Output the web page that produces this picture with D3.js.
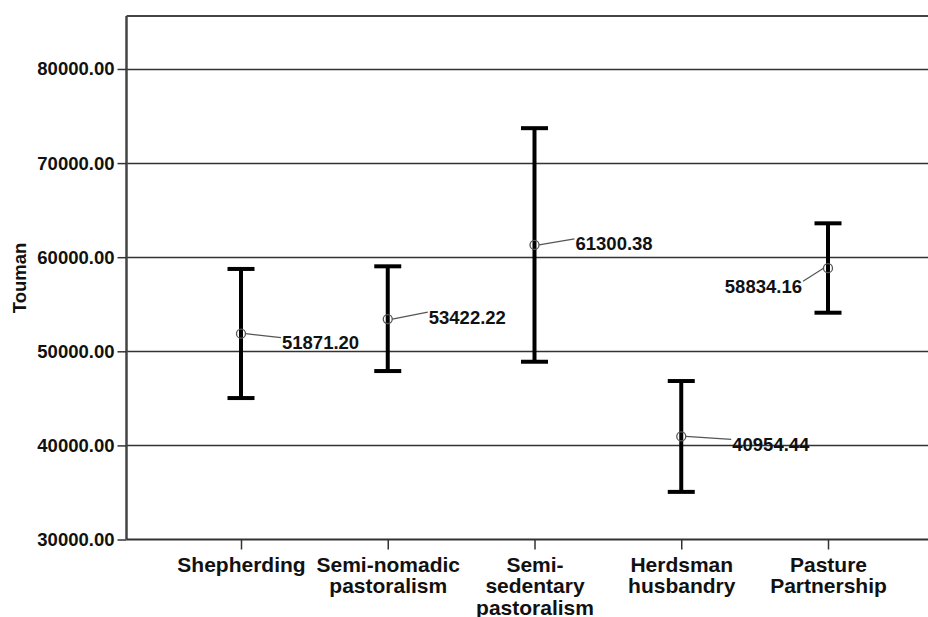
<!DOCTYPE html>
<html>
<head>
<meta charset="utf-8">
<script src="https://cdn.jsdelivr.net/npm/d3@7"></script>
<style>
    body { margin: 0; background: #fff; }
    svg { display: block; font-family: "Liberation Sans", Arial, sans-serif; }
    .tick-label { font-size: 18.5px; font-weight: bold; fill: #111; }
    .cat-label { font-size: 21px; font-weight: bold; fill: #111; }
    .value { font-size: 18.5px; font-weight: bold; fill: #111; }
</style>
</head>
<body>
<div class="chart"></div>
<script>
// data
const categories = ["Shepherding", "Semi-nomadic\npastoralism", "Semi-\nsedentary\npastoralism", "Herdsman\nhusbandry", "Pasture\nPartnership"];
const means = [51871.20, 53422.22, 61300.38, 40954.44, 58834.16];
const upper = [58750, 59030, 73710, 46840, 63600];
const lower = [45030, 47900, 48890, 35060, 54100];
const yTicks = [30000, 40000, 50000, 60000, 70000, 80000];

// label placement (dx, dy of text from the mean point), negative dx = label left of point
const labelShift = [[41, 9], [41, -2], [41, -1], [51, 8], [-26, 18]];

const width = 928;
const height = 617;
const plotLeft = 126.5;
const plotTop = 16;
const plotBottom = 539.5;
const capWidth = 27;

const svg = d3.select(".chart")
    .append("svg")
    .attr("width", width)
    .attr("height", height);

const y = d3.scaleLinear()
    .domain([30000, 85630])
    .range([plotBottom, plotTop]);

const x = d3.scalePoint()
    .domain(categories)
    .range([241, 828]);

_drawGrid();
_drawAxes();
_drawBars();
_drawLabels();

function _drawGrid() {
    svg.selectAll(".grid")
        .data(yTicks.slice(1))
        .enter()
        .append("line")
        .attr("class", "grid")
        .attr("x1", plotLeft)
        .attr("x2", width)
        .attr("y1", (d) => Math.round(y(d)) + 0.5)
        .attr("y2", (d) => Math.round(y(d)) + 0.5)
        .style("stroke", "#333")
        .style("stroke-width", 1.5);

    // top frame
    svg.append("line")
        .attr("x1", plotLeft)
        .attr("x2", width)
        .attr("y1", plotTop)
        .attr("y2", plotTop)
        .style("stroke", "#444")
        .style("stroke-width", 2);
}

function _drawAxes() {
    const yAxis = d3.axisLeft(y)
        .tickValues(yTicks)
        .tickSize(9)
        .tickPadding(3)
        .tickFormat(d3.format(".2f"));

    const gy = svg.append("g")
        .attr("class", "y-axis")
        .attr("transform", `translate(${plotLeft},0)`)
        .call(yAxis);

    gy.select(".domain")
        .attr("d", `M0,${plotTop}V${plotBottom}`)
        .style("stroke", "#444")
        .style("stroke-width", 2.5);
    gy.selectAll(".tick line").style("stroke", "#333").style("stroke-width", 1.5);
    gy.selectAll(".tick text")
        .attr("class", "tick-label");
    gy.attr("font-family", null).attr("font-size", null);

    const xAxis = d3.axisBottom(x)
        .tickSize(10)
        .tickFormat("");

    const gx = svg.append("g")
        .attr("class", "x-axis")
        .attr("transform", `translate(0,${plotBottom})`)
        .call(xAxis);
    gx.attr("font-family", null).attr("font-size", null);

    gx.select(".domain")
        .attr("d", `M${plotLeft},0H${width}`)
        .style("stroke", "#333")
        .style("stroke-width", 2);
    gx.selectAll(".tick line").style("stroke", "#333").style("stroke-width", 1.5);

    gx.selectAll(".tick text")
        .attr("class", "cat-label")
        .attr("y", 32)
        .attr("dy", null)
        .each(function(d) {
            const t = d3.select(this);
            d.split("\n").forEach((line, i) => {
                t.append("tspan")
                    .attr("x", 0)
                    .attr("y", 32 + i * 21.5)
                    .text(line);
            });
        });

    svg.append("text")
        .attr("class", "tick-label")
        .attr("transform", `translate(26,278) rotate(-90)`)
        .attr("text-anchor", "middle")
        .text("Touman");
}

function _drawBars() {
    const bar = svg.selectAll(".bar")
        .data(categories)
        .enter()
        .append("g")
        .attr("class", "bar")
        .style("stroke", "#000")
        .style("stroke-width", 4);

    bar.append("line")
        .attr("x1", (d) => x(d))
        .attr("x2", (d) => x(d))
        .attr("y1", (d, i) => y(upper[i]))
        .attr("y2", (d, i) => y(lower[i]));

    bar.append("line")
        .attr("x1", (d) => x(d) - capWidth / 2)
        .attr("x2", (d) => x(d) + capWidth / 2)
        .attr("y1", (d, i) => y(upper[i]))
        .attr("y2", (d, i) => y(upper[i]));

    bar.append("line")
        .attr("x1", (d) => x(d) - capWidth / 2)
        .attr("x2", (d) => x(d) + capWidth / 2)
        .attr("y1", (d, i) => y(lower[i]))
        .attr("y2", (d, i) => y(lower[i]));
}

function _drawLabels() {
    const label = svg.selectAll(".label")
        .data(categories)
        .enter()
        .append("g")
        .attr("class", "label")
        .attr("transform", (d, i) => `translate(${x(d)},${y(means[i])})`);

    label.append("line")
        .attr("x1", (d, i) => labelShift[i][0] > 0 ? 4.5 : -4.5)
        .attr("y1", 0)
        .attr("x2", (d, i) => labelShift[i][0] + (labelShift[i][0] > 0 ? -1 : 1))
        .attr("y2", (d, i) => labelShift[i][1] - 5)
        .style("stroke", "#555")
        .style("stroke-width", 1.2);

    label.append("circle")
        .attr("r", 4.5)
        .style("fill", "none")
        .style("stroke", "#555")
        .style("stroke-width", 1.3);

    label.append("text")
        .attr("class", "value")
        .attr("x", (d, i) => labelShift[i][0])
        .attr("y", (d, i) => labelShift[i][1])
        .attr("dy", ".35em")
        .attr("text-anchor", (d, i) => labelShift[i][0] > 0 ? "start" : "end")
        .text((d, i) => d3.format(".2f")(means[i]));
}
</script>
</body>
</html>
